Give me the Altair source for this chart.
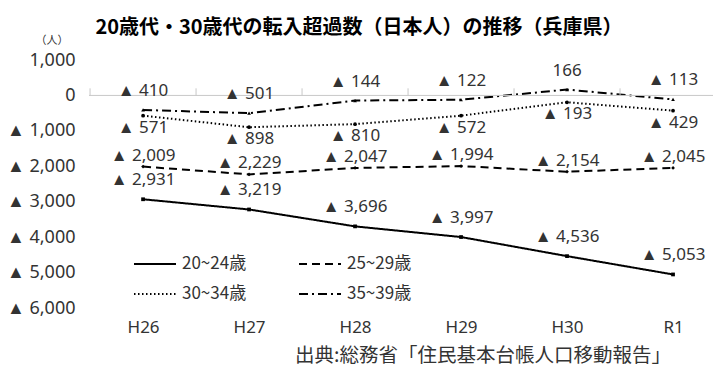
import altair as alt
import pandas as pd

# Net migration (Japanese nationals), Hyogo prefecture, by age group
years = ["H26", "H27", "H28", "H29", "H30", "R1"]
groups = ["20~24歳", "25~29歳", "30~34歳", "35~39歳"]
age_20_24 = [-2931, -3219, -3696, -3997, -4536, -5053]
age_25_29 = [-2009, -2229, -2047, -1994, -2154, -2045]
age_30_34 = [-571, -898, -810, -572, -193, -429]
age_35_39 = [-410, -501, -144, -122, 166, -113]
y_ticks = [1000, 0, -1000, -2000, -3000, -4000, -5000, -6000]

title_text = "20歳代・30歳代の転入超過数（日本人）の推移（兵庫県）"
unit_text = "（人）"
source_text = "出典:総務省「住民基本台帳人口移動報告」"

# styling per series
dash_range = [[1, 0], [8, 5], [1.5, 2.5], [9, 4, 2, 4]]
marker_shape = {"20~24歳": "square", "25~29歳": "diamond", "30~34歳": "circle", "35~39歳": "triangle-up"}
label_dy = {"20~24歳": -19, "25~29歳": -11, "30~34歳": 12, "35~39歳": -19}

rows = []
for g, vals in zip(groups, [age_20_24, age_25_29, age_30_34, age_35_39]):
    for i, (yr, v) in enumerate(zip(years, vals)):
        lab = ("▲ " + f"{-v:,}") if v < 0 else f"{v:,}"
        rows.append({"idx": i, "year": yr, "group": g, "value": v, "label": lab})
df = pd.DataFrame(rows)

W, H = 624, 248
NUM_FONT = "Noto Sans"
JP_FONT = "Noto Sans CJK JP"
TXT = "#333333"

xs = alt.Scale(domain=[-0.51, 5.377], nice=False, zero=False)
ys = alt.Scale(domain=[-6000, 1000], nice=False, zero=False)

year_expr = "[" + ",".join(f"'{y}'" for y in years) + "][datum.value]"
y_expr = "datum.value < 0 ? '▲ ' + format(-datum.value, ',') : format(datum.value, ',')"

x_axis = alt.Axis(values=list(range(len(years))), labelExpr=year_expr, domain=False,
                  ticks=False, grid=False, labelPadding=11, labelFontSize=17,
                  labelColor=TXT, labelFont=NUM_FONT, labelOverlap=False, title=None)
y_axis = alt.Axis(values=y_ticks, labelExpr=y_expr, domain=False, ticks=False,
                  grid=False, labelPadding=14, labelFontSize=18, labelColor=TXT,
                  labelFont=NUM_FONT, labelOverlap=False, title=None)

x_enc = alt.X("idx:Q", scale=xs, axis=x_axis)
y_enc = alt.Y("value:Q", scale=ys, axis=y_axis)

base = alt.Chart(df)

lines = base.mark_line(color="black", strokeWidth=2).encode(
    x=x_enc, y=y_enc, detail="group:N",
    strokeDash=alt.StrokeDash(
        "group:N", scale=alt.Scale(domain=groups, range=dash_range), sort=groups,
        legend=alt.Legend(orient="none", legendX=44, legendY=182, columns=2,
                          direction="horizontal", columnPadding=48, rowPadding=-26,
                          symbolType="stroke", symbolSize=1764, symbolStrokeWidth=2,
                          symbolStrokeColor="black", labelFontSize=17,
                          labelFont=JP_FONT, labelColor=TXT, labelOffset=5,
                          title=None),
    ),
)

# zero reference line with small category separators
zero = alt.Chart(pd.DataFrame({"value": [0]})).mark_rule(color="#c8c8c8", strokeWidth=1).encode(
    y=y_enc, x=alt.value(0), x2=alt.value(W)
)
seps = alt.Chart(pd.DataFrame({"idx": [i - 0.5 for i in range(len(years))]})).mark_rule(
    color="#c8c8c8", strokeWidth=1
).encode(
    x=x_enc, y=alt.Y("top:Q", scale=ys, axis=y_axis), y2="bottom:Q"
).transform_calculate(top="200", bottom="0")

points = [
    base.transform_filter(alt.datum.group == g).mark_point(
        filled=True, color="black", size=14, opacity=1, shape=marker_shape[g]
    ).encode(x=x_enc, y=y_enc)
    for g in groups
]

labels = [
    base.transform_filter(alt.datum.group == g).mark_text(
        fontSize=17, font=NUM_FONT, color=TXT, dy=label_dy[g]
    ).encode(x=x_enc, y=y_enc, text="label:N")
    for g in groups
]

title = alt.Chart(pd.DataFrame({"t": [title_text]})).mark_text(
    fontSize=20, fontWeight="bold", font=JP_FONT, color="black"
).encode(text="t:N", x=alt.value(270), y=alt.value(-32))

unit = alt.Chart(pd.DataFrame({"t": [unit_text]})).mark_text(
    fontSize=11, font=JP_FONT, color=TXT
).encode(text="t:N", x=alt.value(-37), y=alt.value(-19))

source = alt.Chart(pd.DataFrame({"t": [source_text]})).mark_text(
    fontSize=19.5, font=JP_FONT, color=TXT
).encode(text="t:N", x=alt.value(394), y=alt.value(296))

chart = alt.layer(lines, zero, seps, *points, *labels, title, unit, source).properties(
    width=W, height=H,
    autosize=alt.AutoSizeParams(type="none"),
    padding={"left": 89, "top": 60, "right": 0, "bottom": 63},
    view=alt.ViewBackground(strokeOpacity=0, strokeWidth=0),
).configure_view(strokeWidth=0, strokeOpacity=0).configure(background="white")

chart.save("out.html", embed_options={"renderer": "svg", "actions": False})
